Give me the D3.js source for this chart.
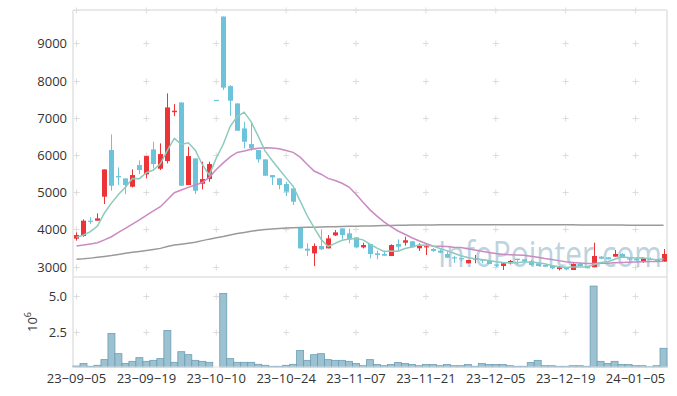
<!DOCTYPE html>
<html>
<head>
    <meta charset="utf-8">
    <title>Candlestick</title>
    <script src="https://d3js.org/d3.v7.min.js"></script>
    <style>
        body { margin: 0; background: #fff; font-family: 'Open Sans', sans-serif; }
        svg text { fill: #333; }
    </style>
</head>
<body>
    <div id="chart"></div>
    <script>
        // 거래일
        const dates = ["23-09-05","23-09-06","23-09-07","23-09-08","23-09-11","23-09-12","23-09-13","23-09-14","23-09-15","23-09-18",
            "23-09-19","23-09-20","23-09-21","23-09-22","23-09-25","23-09-26","23-09-27","23-10-04","23-10-05","23-10-06",
            "23-10-10","23-10-11","23-10-12","23-10-13","23-10-16","23-10-17","23-10-18","23-10-19","23-10-20","23-10-23",
            "23-10-24","23-10-25","23-10-26","23-10-27","23-10-30","23-10-31","23-11-01","23-11-02","23-11-03","23-11-06",
            "23-11-07","23-11-08","23-11-09","23-11-10","23-11-13","23-11-14","23-11-15","23-11-16","23-11-17","23-11-20",
            "23-11-21","23-11-22","23-11-23","23-11-24","23-11-27","23-11-28","23-11-29","23-11-30","23-12-01","23-12-04",
            "23-12-05","23-12-06","23-12-07","23-12-08","23-12-11","23-12-12","23-12-13","23-12-14","23-12-15","23-12-18",
            "23-12-19","23-12-20","23-12-21","23-12-22","23-12-26","23-12-27","23-12-28","24-01-02","24-01-03","24-01-04",
            "24-01-05","24-01-08","24-01-09","24-01-10","24-01-11"];

        const opens = [3752,3823,4235,4235,4880,6133,5435,5372,5148,5730,
            5479,6150,5631,5837,7150,7412,5193,5909,5228,5354,
            7480,9720,7851,7385,6714,6294,6133,5882,5461,5372,
            5220,5103,4056,3483,3358,3555,3492,3841,4029,3895,
            3788,3519,3608,3358,3340,3286,3608,3645,3682,3494,
            3530,3475,3430,3341,3252,3230,3091,3198,3198,3162,
            3060,3018,3091,3215,3198,3153,3091,3046,3018,2938,
            2984,2912,3073,3018,2984,3269,3251,3269,3341,3225,
            3215,3144,3215,3198,3135];
        const highs = [3922,4271,4325,4432,5613,6553,5667,5372,5613,5855,
            5971,6356,6312,7654,7368,7412,6222,5909,5820,5820,
            7480,9720,7878,7385,6893,6893,6133,5882,5461,5372,
            5282,5103,4056,3626,3626,4002,3850,3984,4029,4020,
            3788,3644,3608,3430,3430,3600,3734,3806,3682,3628,
            3610,3500,3460,3420,3290,3230,3180,3314,3198,3162,
            3060,3091,3180,3215,3198,3180,3091,3060,3046,3010,
            2984,3091,3110,3018,3645,3287,3251,3448,3370,3225,
            3215,3225,3250,3198,3475];
        const lows = [3698,3805,4146,4235,4683,5041,5193,4951,5130,5488,
            5372,5640,5595,5774,7045,5175,5193,4951,5077,5282,
            7480,7750,7054,6652,6177,6115,5792,5443,5193,5077,
            4898,4656,3492,3286,3018,3448,3492,3823,3734,3626,
            3492,3492,3224,3197,3295,3286,3430,3564,3521,3422,
            3314,3400,3360,3230,3107,3140,3091,3091,3091,3073,
            2990,2911,3060,3055,3130,3020,3018,3000,2930,2900,
            2910,2912,3000,2957,2984,3200,3198,3269,3251,3144,
            3144,3100,3189,3135,3135];
        const closes = [3850,4235,4220,4298,5613,5175,5400,5193,5461,5596,
            5971,5757,6025,7278,7190,5175,5971,5041,5354,5757,
            7480,7810,7457,6652,6356,6177,5882,5443,5400,5193,
            5014,4745,3492,3430,3555,3465,3761,3922,3850,3734,
            3519,3582,3340,3313,3295,3582,3537,3709,3521,3564,
            3550,3422,3376,3242,3225,3215,3180,3225,3162,3073,
            3046,3091,3153,3180,3144,3046,3018,3000,2957,2984,
            2930,3073,3018,2957,3287,3215,3198,3341,3251,3215,
            3171,3225,3189,3135,3341];

        // 이동평균
        const ma5 = [3788,3850,3940,4092,4443,4708,4941,5136,5368,5365,
            5524,5596,5762,6125,6444,6285,6328,6131,5746,5460,
            5921,6288,6772,7031,7151,6890,6505,6102,5852,5619,
            5386,5159,4769,4375,4047,3737,3541,3627,3711,3746,
            3757,3721,3605,3498,3410,3422,3413,3487,3529,3583,
            3576,3553,3487,3431,3363,3296,3248,3212,3196,3166,
            3132,3114,3105,3109,3123,3123,3108,3078,3033,3001,
            2978,2989,2992,2992,3053,3110,3135,3200,3258,3244,
            3235,3241,3210,3187,3212];
        const ma20 = [3555,3580,3610,3644,3720,3805,3920,4030,4146,4260,
            4380,4500,4611,4800,4987,5060,5130,5193,5260,5400,
            5610,5788,5950,6068,6105,6155,6179,6192,6189,6168,
            6121,6070,5943,5751,5569,5484,5373,5317,5242,5141,
            4943,4731,4526,4359,4206,4076,3959,3872,3778,3697,
            3623,3557,3551,3542,3525,3513,3484,3448,3413,3380,
            3357,3332,3323,3316,3309,3282,3256,3220,3192,3163,
            3132,3115,3097,3083,3086,3090,3095,3104,3110,3118,
            3125,3132,3138,3140,3148];
        const ma60 = [3197,3210,3230,3251,3275,3300,3330,3358,3385,3410,
            3435,3462,3492,3540,3582,3605,3630,3655,3700,3740,
            3775,3810,3850,3890,3920,3950,3980,4002,4015,4028,
            4040,4047,4052,4057,4062,4067,4072,4076,4080,4084,
            4088,4092,4096,4100,4104,4108,4111,4114,4117,4119,
            4121,4123,4124,4125,4126,4127,4127,4128,4128,4128,
            4128,4128,4128,4128,4128,4127,4127,4126,4126,4125,
            4125,4124,4123,4122,4121,4120,4119,4118,4117,4116,
            4115,4114,4113,4112,4111];

        // 거래량 (백만 주)
        const volumes = [0.07,0.24,0.05,0.12,0.52,2.36,0.94,0.24,0.40,0.66,
            0.40,0.47,0.59,2.57,0.33,1.08,0.87,0.47,0.40,0.33,
            0,5.19,0.59,0.33,0.33,0.33,0.19,0.12,0.05,0.05,
            0.12,0.19,1.16,0.47,0.87,0.94,0.52,0.47,0.47,0.40,
            0.24,0.09,0.52,0.17,0.09,0.17,0.31,0.24,0.17,0.09,
            0.17,0.17,0.09,0.17,0.09,0.09,0.17,0.05,0.24,0.17,
            0.17,0.17,0.09,0.05,0.05,0.31,0.47,0.09,0.09,0.05,
            0.05,0.09,0.09,0.05,5.71,0.40,0.24,0.40,0.17,0.17,
            0.09,0.09,0.02,0.09,1.32];

        const priceTicks = [3000,4000,5000,6000,7000,8000,9000];
        const volTicks = [2.5,5.0];
        const dateTicks = ["23-09-05","23-09-19","23-10-10","23-10-24","23-11-07","23-11-21","23-12-05","23-12-19","24-01-05"];

        const width = 677, height = 396;
        const plotLeft = 73, plotRight = 667, plotTop = 10, plotSplit = 277, plotBottom = 367;

        const svg = d3.select("#chart").append("svg")
            .attr("width", width)
            .attr("height", height);

        const idx = d3.range(dates.length);
        const x = d3.scaleBand().domain(idx).range([plotLeft, plotRight]).padding(0);
        const cx = i => x(i) + x.bandwidth() / 2;
        const y = d3.scaleLinear().domain([2723, 9895]).range([plotSplit, plotTop]);
        const yv = d3.scaleLinear().domain([0, 6.35]).range([plotBottom, plotSplit]);

        svg.append("defs").append("clipPath").attr("id", "priceClip")
            .append("rect").attr("x", plotLeft).attr("y", plotTop)
            .attr("width", plotRight - plotLeft).attr("height", plotSplit - plotTop);

        // 격자 (+ 표시)
        const tickX = dateTicks.map(d => cx(dates.indexOf(d)));
        const cross = (g, px, py) => {
            g.append("line").attr("x1", px - 3).attr("x2", px + 3).attr("y1", py).attr("y2", py);
            g.append("line").attr("x1", px).attr("x2", px).attr("y1", py - 3).attr("y2", py + 3);
        };
        const grid = svg.append("g").attr("stroke", "#dcdcdc").attr("stroke-width", 1);
        tickX.forEach(px => {
            priceTicks.forEach(p => cross(grid, px, Math.round(y(p)) + 0.5));
            cross(grid, px, plotTop + 0.5);
            volTicks.forEach(v => cross(grid, px, Math.round(yv(v)) + 0.5));
        });

        // 테두리
        const frame = svg.append("g").attr("stroke", "#e2e2e2").attr("stroke-width", 1.5).attr("fill", "none");
        frame.append("line").attr("x1", plotLeft).attr("x2", plotRight).attr("y1", plotTop).attr("y2", plotTop);
        frame.append("line").attr("x1", plotLeft).attr("x2", plotLeft).attr("y1", plotTop).attr("y2", plotBottom);
        frame.append("line").attr("x1", plotRight).attr("x2", plotRight).attr("y1", plotTop).attr("y2", plotBottom);
        frame.append("line").attr("x1", plotLeft).attr("x2", plotRight).attr("y1", plotSplit).attr("y2", plotSplit);

        // 워터마크
        svg.append("text")
            .attr("x", 438).attr("y", 267)
            .attr("textLength", 224)
            .attr("lengthAdjust", "spacingAndGlyphs")
            .style("font-family", "'Open Sans', sans-serif")
            .style("font-size", "36px")
            .style("fill", "#bdd3df")
            .text("InfoPointer.com");

        // 캔들
        const candles = svg.append("g").attr("clip-path", "url(#priceClip)");
        const up = "#eb3338", down = "#6cc3da";
        idx.forEach(i => {
            const col = closes[i] > opens[i] ? up : down;
            const c = Math.round(cx(i)) + 0.5;
            candles.append("line")
                .attr("x1", c).attr("x2", c)
                .attr("y1", y(highs[i])).attr("y2", y(lows[i]))
                .attr("stroke", col).attr("stroke-width", 1);
            const y0 = y(Math.max(opens[i], closes[i]));
            const h = Math.max(1.2, y(Math.min(opens[i], closes[i])) - y0);
            candles.append("rect")
                .attr("x", c - 2.5).attr("y", y0)
                .attr("width", 5).attr("height", h)
                .attr("fill", col);
        });

        // 이동평균선
        const line = d3.line().x((d, i) => cx(i)).y(d => y(d));
        [[ma60, "#9a9a9a"], [ma20, "#c98bc2"], [ma5, "#8ccabd"]].forEach(([arr, col]) => {
            svg.append("path")
                .datum(arr)
                .attr("d", line)
                .attr("fill", "none")
                .attr("stroke", col)
                .attr("stroke-width", 1.5)
                .attr("clip-path", "url(#priceClip)");
        });

        // 거래량
        svg.append("g").selectAll("rect")
            .data(volumes)
            .join("rect")
            .attr("x", (d, i) => x(i))
            .attr("y", d => yv(d))
            .attr("width", x.bandwidth())
            .attr("height", d => plotBottom - yv(d))
            .attr("fill", "#9cc2d2")
            .attr("stroke", "#6a9eb7")
            .attr("stroke-width", 0.8)
            .attr("opacity", d => d > 0 ? 1 : 0);

        svg.append("line")
            .attr("x1", plotLeft).attr("x2", plotRight).attr("y1", plotBottom).attr("y2", plotBottom)
            .attr("stroke", "#e2e2e2");

        // 축 레이블
        const labels = svg.append("g").style("font-size", "13px");
        priceTicks.forEach(p => {
            labels.append("text")
                .attr("x", 67).attr("y", y(p))
                .attr("text-anchor", "end").attr("dominant-baseline", "central")
                .text(p);
        });
        volTicks.forEach(v => {
            labels.append("text")
                .attr("x", 67).attr("y", yv(v))
                .attr("text-anchor", "end").attr("dominant-baseline", "central")
                .text(v.toFixed(1));
        });
        dateTicks.forEach((d, k) => {
            labels.append("text")
                .attr("x", tickX[k]).attr("y", 378)
                .attr("text-anchor", "middle").attr("dominant-baseline", "central")
                .text(d.replace(/-/g, "\u2212"));
        });

        const unit = labels.append("text")
            .attr("transform", "translate(37,322) rotate(-90)")
            .attr("text-anchor", "middle");
        unit.append("tspan").text("10");
        unit.append("tspan").attr("dy", -6).style("font-size", "9px").text("6");
    </script>
</body>
</html>
